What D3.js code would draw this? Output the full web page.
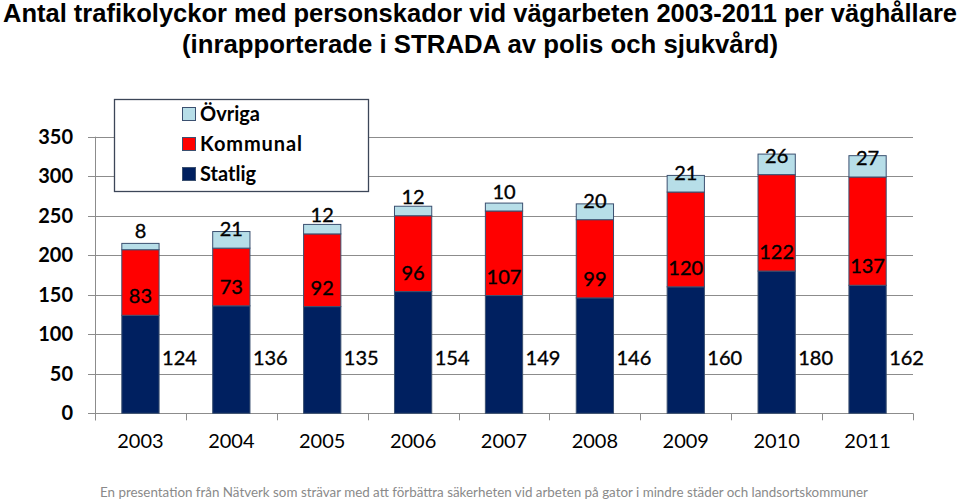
<!DOCTYPE html>
<html><head><meta charset="utf-8">
<script src="https://cdn.jsdelivr.net/npm/d3@7"></script>
<style>body{margin:0;background:#fff}svg{display:block}</style>
</head><body>
<svg id="c" width="960" height="503"></svg>
<script>
const years = ["2003","2004","2005","2006","2007","2008","2009","2010","2011"];
const statlig = [124,136,135,154,149,146,160,180,162];
const kommunal = [83,73,92,96,107,99,120,122,137];
const ovriga = [8,21,12,12,10,20,21,26,27];
const yTicks = [0,50,100,150,200,250,300,350];
const seriesNames = ["Statlig","Kommunal","Övriga"];
const colors = {"Statlig":"#002060","Kommunal":"#FF0000","Övriga":"#B7DEE8"};
const titleLines = ["Antal trafikolyckor med personskador vid vägarbeten 2003-2011 per väghållare","(inrapporterade i STRADA av polis och sjukvård)"];
const footer = "En presentation från Nätverk som strävar med att förbättra säkerheten vid arbeten på gator i mindre städer och landsortskommuner";

const svg = d3.select("#c");
const F = "Lato, 'Open Sans', sans-serif";
const x0 = 95, x1 = 913, yBot = 413.3, yTop = 136.7;
const x = d3.scaleBand().domain(years).range([x0,x1]).paddingInner(0.59).paddingOuter(0.295);
const y = d3.scaleLinear().domain([0,350]).range([yBot,yTop]);

// title
svg.append("text").attr("x",480).attr("y",21.5).attr("text-anchor","middle")
  .attr("font-family","'Liberation Sans', Arial, sans-serif").attr("font-weight","bold").attr("font-size",25)
  .attr("textLength",954).attr("lengthAdjust","spacingAndGlyphs").text(titleLines[0]);
svg.append("text").attr("x",480).attr("y",52.5).attr("text-anchor","middle")
  .attr("font-family","'Liberation Sans', Arial, sans-serif").attr("font-weight","bold").attr("font-size",25)
  .attr("textLength",596).attr("lengthAdjust","spacingAndGlyphs").text(titleLines[1]);

// gridlines
const g = svg.append("g");
g.selectAll("line.grid").data(yTicks).join("line")
  .attr("x1",x0-7).attr("x2",x1).attr("y1",d=>Math.round(y(d))+0.5).attr("y2",d=>Math.round(y(d))+0.5)
  .attr("stroke","#8c8c8c").attr("stroke-width",1);
g.selectAll("text.yl").data(yTicks).join("text")
  .attr("x",73).attr("y",d=>y(d)+7).attr("text-anchor","end")
  .attr("font-family",F).attr("font-weight","bold").attr("font-size",20).attr("fill","#000").text(d=>d);
// y axis line
g.append("line").attr("x1",x0+0.5).attr("x2",x0+0.5).attr("y1",y(350)).attr("y2",yBot+7).attr("stroke","#8c8c8c");
// x ticks at band boundaries
const bounds = years.map((d,i)=>x0 + i*(x1-x0)/years.length).concat([x1]);
g.selectAll("line.xt").data(bounds).join("line")
  .attr("x1",d=>Math.round(d)+0.5).attr("x2",d=>Math.round(d)+0.5).attr("y1",yBot).attr("y2",yBot+7).attr("stroke","#8c8c8c");
g.selectAll("text.xl").data(years).join("text")
  .attr("x",d=>x(d)+x.bandwidth()/2).attr("y",448).attr("text-anchor","middle")
  .attr("font-family",F).attr("font-size",20).attr("fill","#000").text(d=>d);

// stacked bars
const table = years.map((yr,i)=>({year:yr,"Statlig":statlig[i],"Kommunal":kommunal[i],"Övriga":ovriga[i]}));
const stack = d3.stack().keys(seriesNames)(table);
const bars = svg.append("g");
stack.forEach(layer=>{
  bars.selectAll(null).data(layer).join("rect")
    .attr("x",d=>x(d.data.year)).attr("width",x.bandwidth())
    .attr("y",d=>y(d[1])).attr("height",d=>y(d[0])-y(d[1]))
    .attr("fill",colors[layer.key]).attr("stroke","#3b5070").attr("stroke-width",1);
});

// labels
const lab = svg.append("g").attr("font-family",F).attr("font-size",20).attr("fill","#000")
  .attr("stroke","#000").attr("stroke-width",0.35);
// Statlig: right of bar
lab.selectAll(null).data(stack[0]).join("text")
  .attr("x",d=>x(d.data.year)+x.bandwidth()/2+39).attr("y",365).attr("text-anchor","middle")
  .text(d=>d.data["Statlig"]);
// Kommunal & Övriga: inside base
[1,2].forEach(k=>{
  lab.selectAll(null).data(stack[k]).join("text")
    .attr("x",d=>x(d.data.year)+x.bandwidth()/2).attr("y",d=>y(d[0])-19+7).attr("text-anchor","middle")
    .text(d=>d.data[seriesNames[k]]);
});

// legend
const lg = svg.append("g");
lg.append("rect").attr("x",114.5).attr("y",99.5).attr("width",254).attr("height",92)
  .attr("fill","#fff").attr("stroke","#3c4658").attr("stroke-width",1.3);
const legItems = ["Övriga","Kommunal","Statlig"];
legItems.forEach((s,i)=>{
  const cy = 114 + i*30;
  lg.append("rect").attr("x",182.5).attr("y",cy-6.5).attr("width",13).attr("height",13)
    .attr("fill",colors[s]).attr("stroke","#3b5070").attr("stroke-width",1);
  lg.append("text").attr("x",200).attr("y",cy+7).attr("font-family",F).attr("font-weight","bold")
    .attr("font-size",20).attr("fill","#000").attr("textLength",s==="Kommunal"?102:null).text(s);
});

// footer
svg.append("text").attr("x",100).attr("y",497).attr("font-family",F).attr("font-size",14)
  .attr("fill","#8a8a8a").attr("textLength",768).attr("lengthAdjust","spacingAndGlyphs").text(footer);
</script>
</body></html>
